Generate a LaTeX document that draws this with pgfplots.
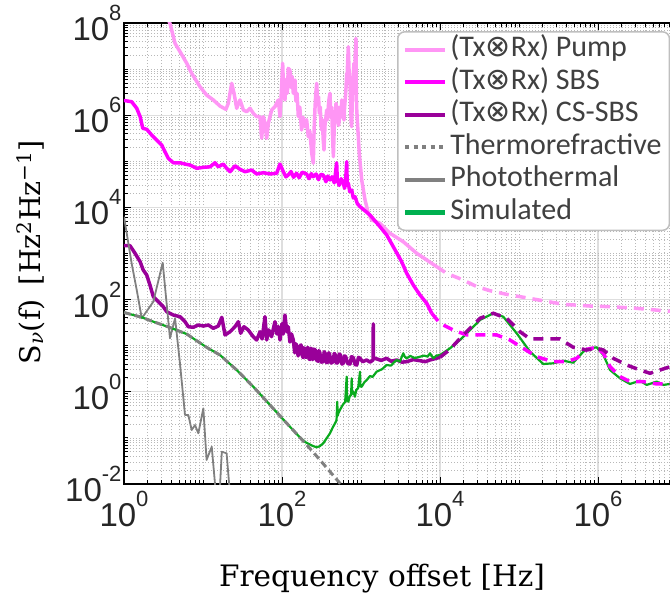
\documentclass[border=0pt]{standalone}
\usepackage{fontspec}
\setmainfont{Liberation Sans}
\newfontfamily\legfont{Carlito}
\newfontfamily\labfont{DejaVu Serif}
\newfontfamily\symfont{DejaVu Sans}
\usepackage{pgfplots}
\pgfplotsset{compat=1.18}

\definecolor{pumpc}{RGB}{255,150,245}
\definecolor{sbsc}{RGB}{255,0,255}
\definecolor{csc}{RGB}{153,0,153}
\definecolor{grayc}{RGB}{128,128,128}
\definecolor{simc}{RGB}{10,170,30}
\definecolor{simleg}{RGB}{0,176,80}
\definecolor{tickc}{RGB}{38,38,38}

\newcommand\ticklab[1]{\pgfmathtruncatemacro\ee{round(#1)}10\raisebox{20pt}{\fontsize{22}{22}\selectfont\ee}}

\begin{document}
\begin{tikzpicture}
\path[use as bounding box, clip] (0,0) rectangle (670pt,595pt);
\begin{loglogaxis}[
  at={(124pt,111pt)}, anchor=south west,
  scale only axis, width=553pt, height=461pt,
  xmin=1, xmax=1e7, ymin=1e-2, ymax=1e8,
  log basis x=10, log basis y=10,
  xtick={1,1e2,1e4,1e6}, ytick={1e-2,1,1e2,1e4,1e6,1e8},
  minor xtick={2,3,4,5,6,7,8,9,10,20,30,40,50,60,70,80,90,200,300,400,500,600,700,800,900,1000,2000,3000,4000,5000,6000,7000,8000,9000,2e4,3e4,4e4,5e4,6e4,7e4,8e4,9e4,1e5,2e5,3e5,4e5,5e5,6e5,7e5,8e5,9e5,2e6,3e6,4e6,5e6,6e6,7e6,8e6,9e6},
  minor ytick={0.02,0.03,0.04,0.05,0.06,0.07,0.08,0.09,0.1,0.2,0.3,0.4,0.5,0.6,0.7,0.8,0.9,2,3,4,5,6,7,8,9,10,20,30,40,50,60,70,80,90,200,300,400,500,600,700,800,900,1000,2000,3000,4000,5000,6000,7000,8000,9000,2e4,3e4,4e4,5e4,6e4,7e4,8e4,9e4,1e5,2e5,3e5,4e5,5e5,6e5,7e5,8e5,9e5,2e6,3e6,4e6,5e6,6e6,7e6,8e6,9e6,1e7,2e7,3e7,4e7,5e7,6e7,7e7,8e7,9e7},
  xticklabel={\ticklab{\tick}}, yticklabel={\ticklab{\tick}},
  ticklabel style={font=\fontsize{33}{38}\selectfont, text=tickc},
  xticklabel style={yshift=-4pt},
  yticklabel style={xshift=1pt},
  tick align=inside, major tick length=7pt, minor tick length=4pt,
  tick style={black, line width=0.9pt},
  axis line style={line width=1.3pt, black},
  grid=both,
  major grid style={black!13, line width=1.2pt},
  minor grid style={black!28, line width=0.8pt, dash pattern=on 1pt off 2pt},
  xlabel={Frequency offset [Hz]},
  ylabel={S\textsubscript{\textit{ν}}(f)\hspace{0.5em}[Hz\textsuperscript{2}Hz\textsuperscript{−1}]},
  xlabel style={at={(axis description cs:0.4665,-0.2228)}, anchor=base, font=\labfont\fontsize{29.5}{34}\selectfont},
  ylabel style={at={(axis description cs:-0.1690,0.503)}, anchor=center, font=\labfont\fontsize{28.5}{34}\selectfont},
  legend style={at={(axis description cs:0.4937,0.9825)}, anchor=north west,
    draw=black!25, line width=1.5pt, rounded corners=7pt, fill=white,
    font=\legfont\fontsize{30}{33}\selectfont, text=black!75,
    inner xsep=5pt, inner ysep=3pt, row sep=2.5pt,
    nodes={inner xsep=3pt, inner ysep=0pt, text height=22pt, text depth=8pt}},
  legend cell align=left,
  legend image code/.code={\draw[#1] (0pt,0pt) -- (40pt,0pt);},
]
% Pump (solid part)
\addplot[pumpc, line width=3.5pt, line join=round, forget plot] coordinates {
(3.4,1.5e8)(3.82,9.8e7)(4.43,3.6e7)(5.11,2.4e7)(6.22,1.34e7)(7.19,8.1e6)(9.16,4.15e6)(11.1,2.74e6)(13.5,2.14e6)(16.4,1.58e6)(19.5,1.34e6)(20.9,1.81e6)(23.1,4.92e6)(24.7,2.99e6)(26.7,1.41e6)(29.4,2.14e6)(30.9,1.66e6)(32.4,1.30e6)(35.7,1.19e6)(39.4,1.41e6)(43.3,1.10e6)(47.8,9.3e5)(52.7,9.3e5)(55.3,3.16e5)(58.0,9.3e5)(60.9,6.67e5)(64.0,3.16e5)(67.1,6.67e5)(74.1,1.30e6)(81.5,1.53e6)(89.8,2.14e6)(94.3,9.3e5)(98,3e6)(102,1.34e7)(105,3e6)(109,2.14e6)(113,6e6)(117,3e6)(120,1.04e7)(126,9.55e6)(130,4e6)(134,7e6)(139,2.99e6)(146,5.8e6)(150,2e6)(155,3e6)(161,9.3e5)(168,1.5e6)(177,4.77e5)(185,9e5)(195,5.64e5)(205,8e5)(215,3.42e5)(225,4.5e5)(238,1.49e5)(249,9.06e4)(255,5e5)(262,1.5e6)(268,3e6)(275,4.92e6)(282,2e6)(290,2.5e6)(297,1.10e6)(305,1.5e6)(312,6e5)(318,4.77e5)(325,8e5)(332,3e5)(340,1.76e5)(350,6e5)(360,9e5)(368,1.30e6)(378,8e5)(390,2e6)(405,2.99e6)(415,9e5)(425,1.5e6)(435,4e5)(447,1.26e5)(458,5e5)(470,1e6)(483,1.81e6)(495,1e6)(510,1.5e6)(520,6e5)(531,7.87e5)(545,1.5e6)(558,9e5)(570,2.14e6)(583,1e6)(595,1.8e6)(609,7.87e5)(620,1.5e6)(635,2.5e6)(647,4e6)(659,8.1e6)(667,5e6)(675,1.2e7)(691,3.06e7)(705,1e7)(718,6e6)(726,5.8e6)(740,1.5e6)(750,8e5)(762,5.64e5)(775,2e6)(790,5e6)(803,9e6)(815,1.34e7)(825,3e6)(835,1e7)(845,2e7)(855,3e7)(864,4.66e7)(872,3e6)(880,1.5e6)(898,7.87e5)(951,1.49e5)(1021,3.93e4)(1125,1.45e4)(1237,7.46e3)(1365,5.33e3)(1740,4.52e3)(2330,2.74e3)(3430,1.80e3)(5070,1.01e3)(6790,723)(9080,518)};
% Pump (dashed part)
\addplot[pumpc, line width=3.5pt, dash pattern=on 10pt off 7pt, forget plot] coordinates {
(9080,518)(1.21e4,372)(1.97e4,266)(2.92e4,191)(4.30e4,156)(6.98e4,130)(1.52e5,103)(3.64e5,79)(7.92e5,72.6)(1.42e6,70.2)(3.09e6,64.7)(7.41e6,56.6)(1e7,55)};
% SBS (solid part)
\addplot[sbsc, line width=3.5pt, line join=round, forget plot] coordinates {
(1,2.07e6)(1.03,2.07e6)(1.25,1.96e6)(1.45,1.41e6)(1.60,9.3e5)(1.73,5.2e5)(1.94,4.94e5)(2.24,3.72e5)(2.59,2.9e5)(3.00,2.26e5)(3.30,1.61e5)(3.64,1.16e5)(4.21,9.3e4)(5.11,9.3e4)(5.92,8.7e4)(6.84,8.3e4)(8.32,7.05e4)(10.1,7.4e4)(12.3,7.6e4)(14.2,9.3e4)(15.6,7.6e4)(18.1,8.7e4)(19.9,7.05e4)(22.0,5.94e4)(25.4,8.0e4)(29.4,6.7e4)(34.0,5.94e4)(41.3,6.47e4)(47.8,5.3e4)(58.0,5.66e4)(70.5,5.3e4)(85.7,5.5e4)(94.3,8.7e4)(104,5.94e4)(112,4.6e4)(120,5.05e4)(130,6.0e4)(140,4.5e4)(153,5.5e4)(165,4.4e4)(180,5.8e4)(205,5.3e4)(220,4.2e4)(235,5.4e4)(248,4.63e4)(270,5.3e4)(290,4.0e4)(310,5.2e4)(332,5.05e4)(360,3.6e4)(380,4.8e4)(405,3.93e4)(430,4.6e4)(460,3.4e4)(492,9.3e4)(501,3.93e4)(530,3.0e4)(560,4.2e4)(597,3.33e4)(620,2.6e4)(640,4.0e4)(659,9.8e4)(670,3.0e4)(691,3.33e4)(720,2.2e4)(762,2.38e4)(800,1.6e4)(839,1.71e4)(900,1.2e4)(971,1.04e4)(1300,6.84e3)(1740,3.81e3)(2115,2.52e3)(2560,1.41e3)(3270,664)(3790,372)(4590,207)(5580,126)(6790,83)(7850,50.5)};
% CS-SBS (solid part)
\addplot[csc, line width=3.5pt, line join=round, forget plot] coordinates {
(1,1.48e3)(1.19,1.48e3)(1.38,1.01e3)(1.60,664)(1.75,439)(1.94,342)(2.13,207)(2.35,116)(2.72,90)(3.14,70.2)(3.47,54.7)(4.21,46.3)(5.11,42.6)(5.92,33.2)(6.52,25.8)(7.54,25.1)(8.73,28.1)(10.1,26.7)(11.7,28.1)(13.5,23.8)(15.6,26.7)(17.3,41.3)(19.0,17.1)(22.0,20.1)(25.4,25.8)(28.0,33.2)(30.0,18.6)(33.0,25.8)(37.4,21.9)(43.2,15.7)(47.8,13.3)(52.7,20.1)(56,14)(60.9,42.6)(64.0,13.3)(68,22)(73.8,15.7)(78,24)(81.5,33.2)(86,18)(90,26)(94.3,13.3)(100,30)(104,18)(109,46.3)(115,20)(120,25.8)(126,12)(132,18)(139,13.3)(145,7)(150,11)(153,10)(160,6)(166,9.5)(174,10.4)(180,6.2)(185,5.5)(190,9)(195,8.5)(200,5.6)(206,5.77)(211,9.2)(216,8.5)(221,5.2)(226,5.0)(233,8.8)(240,8.07)(245,5.0)(249,5.33)(256,8.4)(265,8)(275,4.8)(286,4.6)(293,7.8)(300,7.3)(315,4.4)(333,4.5)(342,7.4)(350,7)(365,4.3)(382,4.4)(390,7.0)(400,6.6)(420,4.2)(446,4.5)(458,6.8)(470,6.5)(490,4.2)(511,4.3)(530,6.6)(550,6.28)(575,4.0)(597,4.15)(620,6.0)(640,5.8)(680,4.1)(726,4.0)(760,5.8)(800,5.5)(840,3.9)(883,3.81)(930,5.6)(971,5.33)(1050,4.5)(1180,4.9)(1300,4.4)(1420,4.9)(1430,29.6)(1440,5.33)(1500,5.33)(1800,4.8)(2110,5.33)(2400,4.6)(2830,4.9)(3300,4.4)(3790,4.5)(4600,5.0)(5580,4.73)(6500,4.5)(7470,4.9)(1.0e4,5.6)};
% Photothermal
\addplot[grayc, line width=1.8pt, line join=round, forget plot] coordinates {
(1,6.3e3)(1.25,612)(1.45,161)(1.68,39.3)(2.35,90)(3.09,631)(3.82,14.5)(4.43,39.4)(5.11,4.15)(5.92,0.314)(6.52,0.314)(7.19,0.148)(7.92,0.19)(8.73,0.126)(10.1,0.438)(11.1,0.0332)(12.9,0.0644)(14.6,0.0058)(16.2,0.0058)(17.3,0.0501)(19.9,0.0463)(22.0,0.0058)};
% Simulated
\addplot[simc, line width=2.2pt, line join=round, forget plot] coordinates {
(1,52.5)(1.68,41.3)(2.35,33.2)(3.82,24.8)(6.22,17.9)(11.2,9.14)(16.4,6.28)(26.7,2.97)(43.3,1.29)(70.5,0.518)(115,0.207)(169,0.102)(200,0.08)(240,0.068)(274,0.0625)(300,0.066)(333,0.0764)(370,0.10)(405,0.126)(440,0.17)(469,0.207)(490,0.24)(501,0.61)(506,0.30)(516,0.341)(540,0.40)(570,0.475)(600,0.55)(630,0.60)(659,2.13)(665,0.65)(691,0.61)(720,0.80)(750,0.85)(762,1.96)(770,0.90)(800,1.0)(839,0.783)(870,1.1)(920,1.2)(971,2.73)(985,1.3)(1021,1.29)(1100,1.6)(1180,1.8)(1300,2.2)(1400,2.1)(1575,2.73)(1700,2.9)(1850,3.1)(2110,3.81)(2400,3.7)(2600,4.3)(2830,4.9)(3100,4.5)(3430,6.84)(3600,5.7)(3790,5.33)(4200,6.0)(4800,5.4)(5580,5.77)(6300,6.1)(7000,5.8)(7470,6.84)(8230,5.33)(9000,6.1)(1e4,6.28)(1.34e4,8.79)(1.79e4,13.3)(2.40e4,21.9)(3.21e4,36.1)(4.73e4,50.5)(6.32e4,42.6)(9.35e4,18.6)(1.38e5,7.41)(2.03e5,4.01)(2.71e5,4.15)(3.64e5,4.73)(4.86e5,4.28)(6.52e5,7.41)(7.92e5,8.79)(9.63e5,9.23)(1.17e6,6.28)(1.42e6,2.97)(1.90e6,1.96)(2.54e6,1.48)(3.40e6,1.74)(4.13e6,1.41)(5.53e6,1.66)(6.71e6,1.41)(8.15e6,1.48)(1e7,1.45)};
% Thermorefractive
\addplot[grayc, line width=3pt, dash pattern=on 7pt off 4pt, forget plot] coordinates {
(1,52.5)(1.68,41.3)(2.35,33.2)(3.82,24.8)(6.22,17.9)(11.2,9.14)(16.4,6.28)(26.7,2.97)(43.3,1.29)(70.5,0.518)(115,0.207)(169,0.102)(238,0.0533)(333,0.0274)(469,0.0138)(627,0.0078)};
% SBS (dashed part)
\addplot[sbsc, line width=3.5pt, dash pattern=on 10pt off 7pt, forget plot] coordinates {
(7850,50.5)(1.0e4,30.6)(1.47e4,21.9)(2.18e4,17.1)(3.53e4,17.1)(5.22e4,17.1)(7.69e4,13.3)(1.13e5,8.79)(1.67e5,5.77)(2.71e5,4.5)(4.01e5,4.5)(5.37e5,5.33)(7.19e5,8.36)(9.63e5,9.23)(1.17e6,6.84)(1.42e6,3.5)(1.90e6,2.13)(2.54e6,1.66)(3.74e6,1.66)(5.53e6,1.48)(8.15e6,1.48)(1e7,1.45)};
% CS-SBS (dashed part)
\addplot[csc, line width=3.5pt, dash pattern=on 10pt off 7pt, forget plot] coordinates {
(1.0e4,5.6)(1.34e4,8.36)(1.97e4,17.1)(3.21e4,39.3)(4.73e4,50.5)(6.98e4,39.3)(1.03e5,20.1)(1.38e5,14.0)(2.03e5,14.0)(3.3e5,14.0)(4.86e5,9.23)(7.19e5,8.07)(9.63e5,8.79)(1.17e6,8.07)(1.56e6,5.33)(2.31e6,3.81)(3.40e6,2.97)(4.55e6,2.52)(6.09e6,2.97)(8.15e6,3.5)(1e7,3.8)};

\addlegendimage{pumpc, line width=4pt}
\addlegendentry{(Tx{\symfont ⊗}Rx) Pump}
\addlegendimage{sbsc, line width=4pt}
\addlegendentry{(Tx{\symfont ⊗}Rx) SBS}
\addlegendimage{csc, line width=4.5pt}
\addlegendentry{(Tx{\symfont ⊗}Rx) CS-SBS}
\addlegendimage{grayc, line width=4pt, dash pattern=on 4pt off 4.5pt}
\addlegendentry{Thermorefractive\hspace{8pt}}
\addlegendimage{grayc, line width=4pt}
\addlegendentry{Photothermal}
\addlegendimage{simleg, line width=4.5pt}
\addlegendentry{Simulated}
\end{loglogaxis}
\end{tikzpicture}
\end{document}
